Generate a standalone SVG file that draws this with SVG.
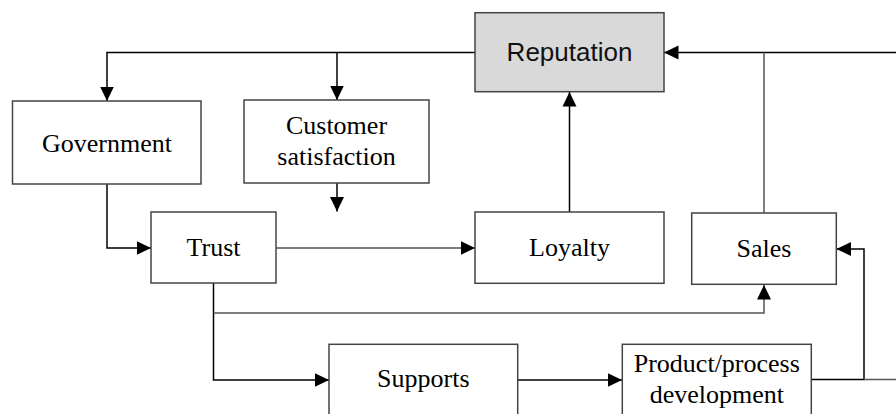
<svg xmlns="http://www.w3.org/2000/svg" width="896" height="414" viewBox="0 0 896 414">
<style>
.box{fill:#fff;stroke:#444;stroke-width:1.5}
.rep{fill:#d9d9d9;stroke:#444;stroke-width:1.5}
.t{font-family:"Liberation Serif","Times New Roman",serif;font-size:26px;fill:#000;text-anchor:middle}
.ts{font-family:"Liberation Sans",Arial,sans-serif;font-size:26px;fill:#111;text-anchor:middle}
.c{fill:none;stroke:#000;stroke-width:1.5}
.g{fill:none;stroke:#555;stroke-width:1.5}
</style>
<defs>
<marker id="ah" markerUnits="userSpaceOnUse" markerWidth="16" markerHeight="16" viewBox="0 0 16 16" refX="14.5" refY="8" orient="auto">
<path d="M0,1 L14.5,8 L0,15 Z" fill="#000"/>
</marker>
</defs>
<rect width="896" height="414" fill="#fff"/>
<g id="connectors">
<path class="c" d="M475,52.5 H107 V101" marker-end="url(#ah)"/>
<path class="c" d="M337,52.5 V100" marker-end="url(#ah)"/>
<path class="c" d="M896,52.5 H664" marker-end="url(#ah)"/>
<path class="g" d="M764,213 V52.5"/>
<path class="c" d="M569.5,212 V92" marker-end="url(#ah)"/>
<path class="c" d="M337,183 V211.5" marker-end="url(#ah)"/>
<path class="c" d="M107,184 V248 H151" marker-end="url(#ah)"/>
<path class="g" d="M276,248 H475" marker-end="url(#ah)"/>
<path class="c" d="M213.5,283 V380 H329" marker-end="url(#ah)"/>
<path class="g" d="M213.5,313 H764 V285" marker-end="url(#ah)"/>
<path class="c" d="M518,380 H622" marker-end="url(#ah)"/>
<path class="c" d="M811,379.5 H864 V249 H836.5" marker-end="url(#ah)"/>
<path class="g" d="M864,379.5 H896"/>
</g>
<g id="reputation">
<rect class="rep" x="475" y="12.7" width="189" height="79"/>
<text class="ts" x="569.5" y="61">Reputation</text>
</g>
<g id="government">
<rect class="box" x="12.5" y="101" width="188.5" height="83"/>
<text class="t" x="107" y="152">Government</text>
</g>
<g id="customer-satisfaction">
<rect class="box" x="244" y="100" width="185" height="83"/>
<text class="t" x="336.5" y="134">Customer</text>
<text class="t" x="336.5" y="165">satisfaction</text>
</g>
<g id="trust">
<rect class="box" x="151" y="212" width="125" height="71"/>
<text class="t" x="213.5" y="256">Trust</text>
</g>
<g id="loyalty">
<rect class="box" x="475" y="212" width="189" height="71.3"/>
<text class="t" x="569.5" y="256">Loyalty</text>
</g>
<g id="sales">
<rect class="box" x="691.7" y="213" width="144.6" height="71.3"/>
<text class="t" x="764" y="256.5">Sales</text>
</g>
<g id="supports">
<rect class="box" x="329" y="344.3" width="188.7" height="80"/>
<text class="t" x="423.3" y="387">Supports</text>
</g>
<g id="product-process-development">
<rect class="box" x="622.3" y="344.3" width="189" height="80"/>
<text class="t" x="716.8" y="371.5">Product/process</text>
<text class="t" x="716.8" y="402.5">development</text>
</g>
</svg>
